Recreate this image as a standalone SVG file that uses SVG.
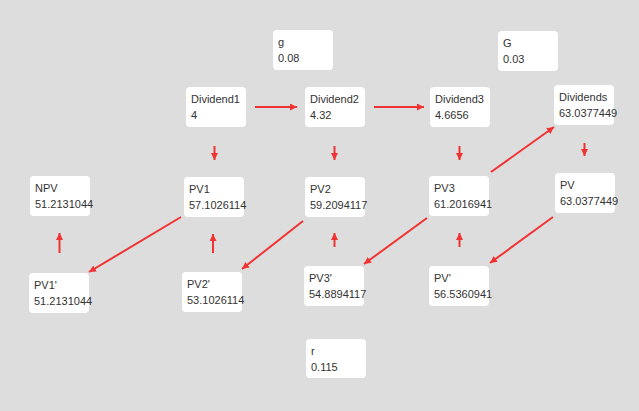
<svg xmlns="http://www.w3.org/2000/svg" width="639" height="411" viewBox="0 0 639 411">
<style>
.box{fill:#fff;}
.t{font-family:"Liberation Sans",Arial,sans-serif;font-size:11px;fill:#333;}
.c{stroke:#f03232;stroke-width:2;fill:none;marker-end:url(#ah);}
</style>
<defs>
<marker id="ah" markerUnits="userSpaceOnUse" markerWidth="10" markerHeight="10" refX="7" refY="3.5" orient="auto">
<path d="M0,0 L7,3.5 L0,7 Z" fill="#f03232"/>
</marker>
</defs>
<rect width="639" height="411" fill="#dddddd"/>
<g id="connectors">
<path class="c" d="M255,107 L297,107"/>
<path class="c" d="M374,107 L424,107"/>
<path class="c" d="M214.5,146 L214.5,160"/>
<path class="c" d="M334.5,146 L334.5,160"/>
<path class="c" d="M459.5,146 L459.5,160"/>
<path class="c" d="M491,172 L554,127"/>
<path class="c" d="M584.5,143 L584.5,156"/>
<path class="c" d="M553,217 L490,263"/>
<path class="c" d="M459.5,247 L459.5,233"/>
<path class="c" d="M427,218 L364,264"/>
<path class="c" d="M334.5,247 L334.5,233"/>
<path class="c" d="M303,221 L242,269"/>
<path class="c" d="M213,253 L213,234"/>
<path class="c" d="M181,217 L89,272"/>
<path class="c" d="M59.5,253 L59.5,233"/>
</g>
<g id="g"><rect class="box" x="273" y="30" width="60" height="40" rx="4"/><text class="t" x="278" y="46">g</text><text class="t" x="278" y="61.5">0.08</text></g>
<g id="G"><rect class="box" x="498" y="31" width="60" height="40" rx="4"/><text class="t" x="503" y="47">G</text><text class="t" x="503" y="62.5">0.03</text></g>
<g id="Dividend1"><rect class="box" x="186" y="87" width="60" height="40" rx="4"/><text class="t" x="191" y="103">Dividend1</text><text class="t" x="191" y="118.5">4</text></g>
<g id="Dividend2"><rect class="box" x="305" y="87" width="60" height="40" rx="4"/><text class="t" x="310" y="103">Dividend2</text><text class="t" x="310" y="118.5">4.32</text></g>
<g id="Dividend3"><rect class="box" x="430" y="87" width="60" height="40" rx="4"/><text class="t" x="435" y="103">Dividend3</text><text class="t" x="435" y="118.5">4.6656</text></g>
<g id="Dividends"><rect class="box" x="554" y="85" width="60" height="40" rx="4"/><text class="t" x="559" y="101">Dividends</text><text class="t" x="559" y="116.5">63.0377449</text></g>
<g id="NPV"><rect class="box" x="30" y="176" width="60" height="40" rx="4"/><text class="t" x="35" y="192">NPV</text><text class="t" x="35" y="207.5">51.2131044</text></g>
<g id="PV1"><rect class="box" x="184" y="177" width="60" height="40" rx="4"/><text class="t" x="189" y="193">PV1</text><text class="t" x="189" y="208.5">57.1026114</text></g>
<g id="PV2"><rect class="box" x="305" y="177" width="60" height="40" rx="4"/><text class="t" x="310" y="193">PV2</text><text class="t" x="310" y="208.5">59.2094117</text></g>
<g id="PV3"><rect class="box" x="429" y="176" width="60" height="40" rx="4"/><text class="t" x="434" y="192">PV3</text><text class="t" x="434" y="207.5">61.2016941</text></g>
<g id="PV"><rect class="box" x="555" y="173" width="60" height="40" rx="4"/><text class="t" x="560" y="189">PV</text><text class="t" x="560" y="204.5">63.0377449</text></g>
<g id="PV1p"><rect class="box" x="29" y="273" width="60" height="40" rx="4"/><text class="t" x="34" y="289">PV1'</text><text class="t" x="34" y="304.5">51.2131044</text></g>
<g id="PV2p"><rect class="box" x="182" y="272" width="60" height="40" rx="4"/><text class="t" x="187" y="288">PV2'</text><text class="t" x="187" y="303.5">53.1026114</text></g>
<g id="PV3p"><rect class="box" x="304" y="266" width="60" height="40" rx="4"/><text class="t" x="309" y="282">PV3'</text><text class="t" x="309" y="297.5">54.8894117</text></g>
<g id="PVp"><rect class="box" x="429" y="266" width="60" height="40" rx="4"/><text class="t" x="434" y="282">PV'</text><text class="t" x="434" y="297.5">56.5360941</text></g>
<g id="r"><rect class="box" x="306" y="339" width="60" height="39" rx="4"/><text class="t" x="311" y="355">r</text><text class="t" x="311" y="370.5">0.115</text></g>
</svg>
